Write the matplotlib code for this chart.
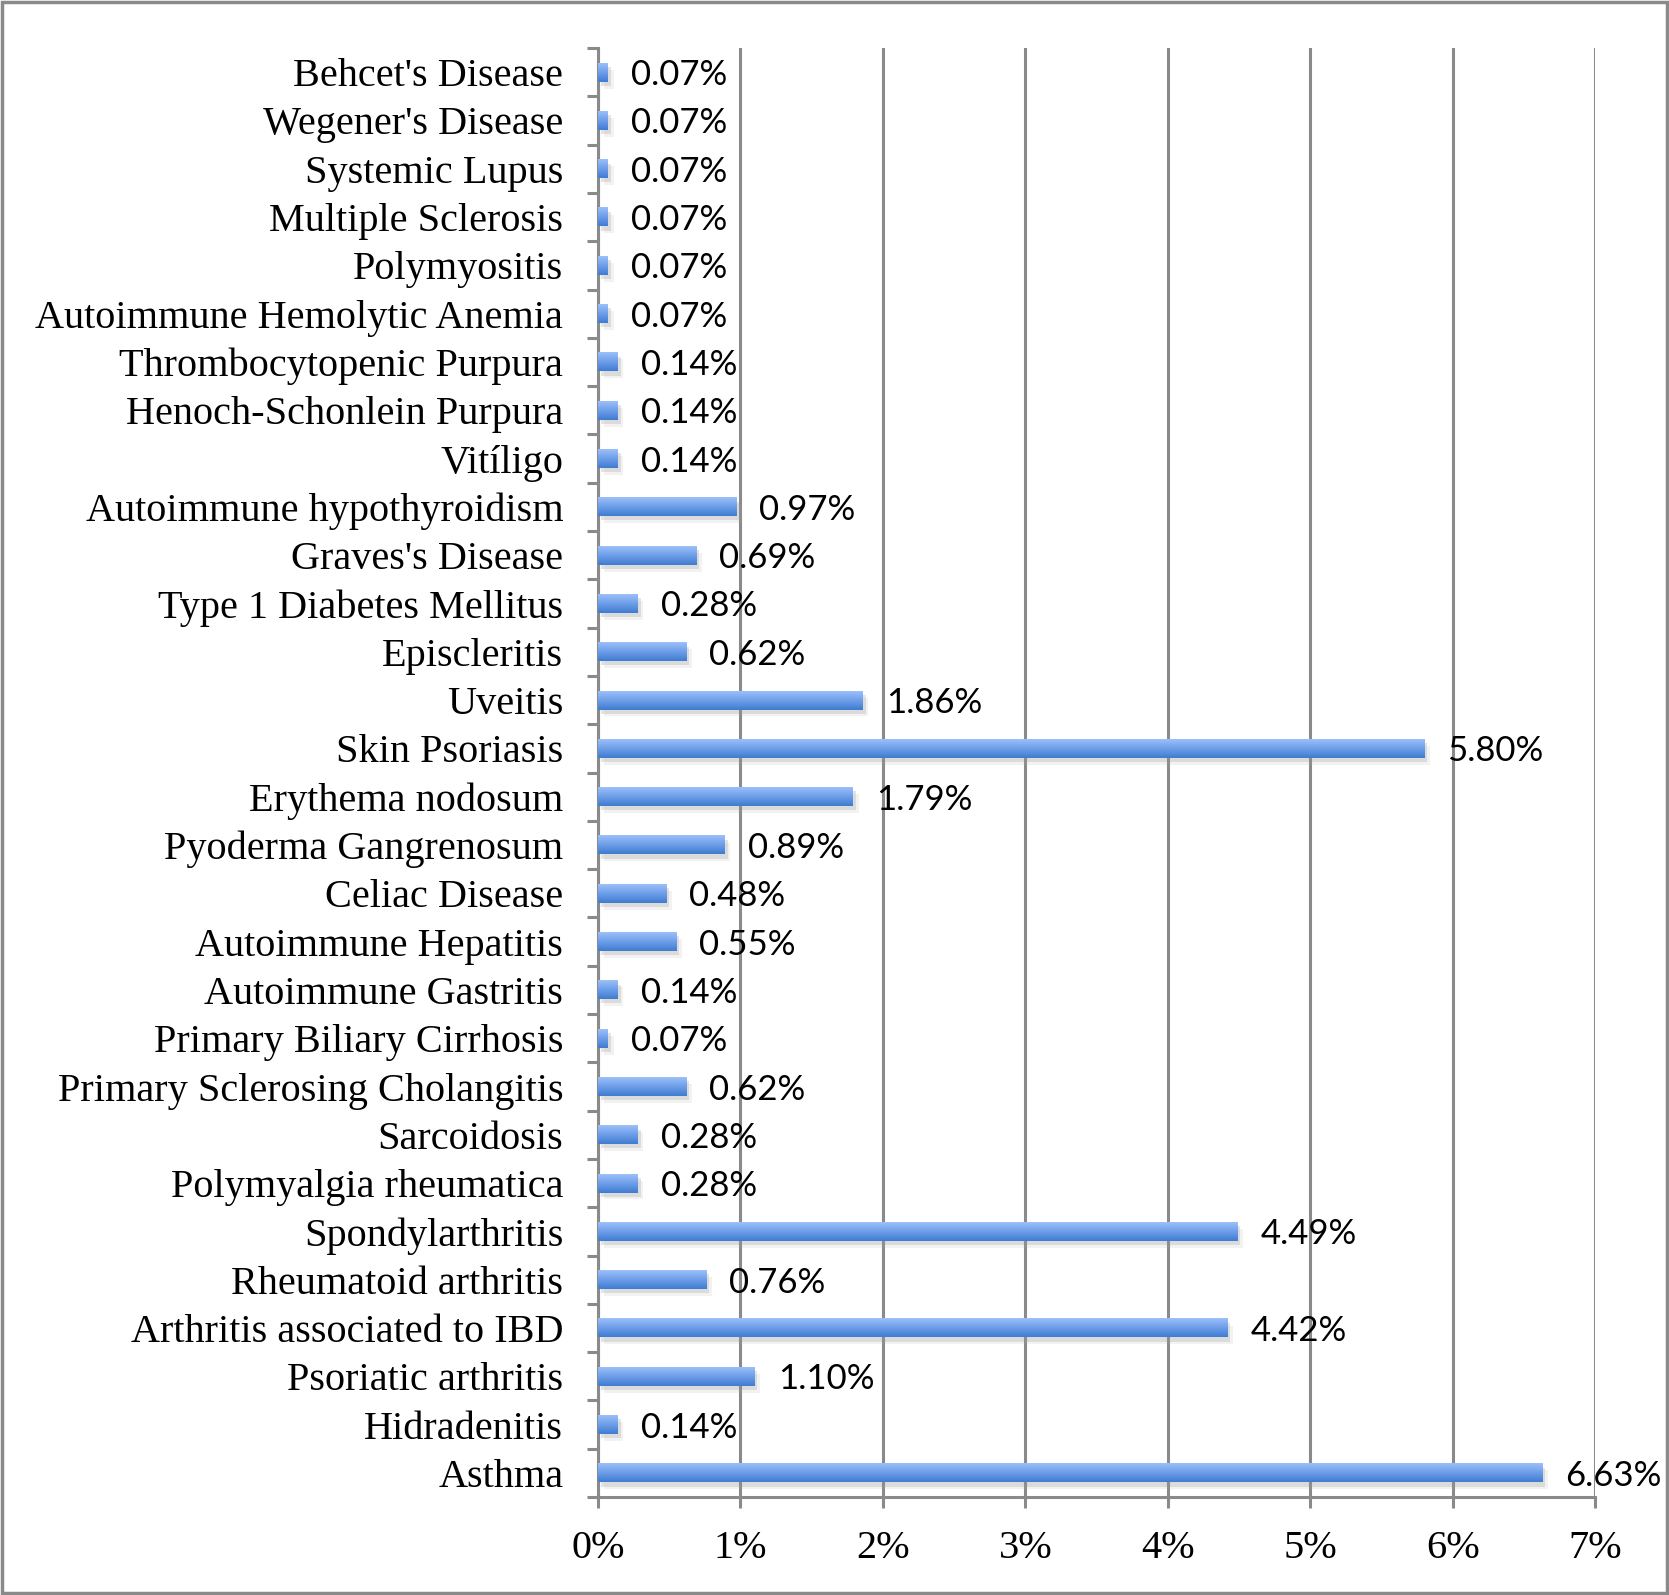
import matplotlib
matplotlib.use("Agg")
import matplotlib.pyplot as plt
import matplotlib.patheffects as pe
import numpy as np
from matplotlib.patches import Rectangle
from matplotlib.ticker import FixedLocator, FuncFormatter

# --------------------------------------------------
# DATA (bottom to top, as drawn)
# --------------------------------------------------
diseases = [
    "Asthma", "Hidradenitis", "Psoriatic arthritis", "Arthritis associated to IBD",
    "Rheumatoid arthritis", "Spondylarthritis", "Polymyalgia rheumatica", "Sarcoidosis",
    "Primary Sclerosing Cholangitis", "Primary Biliary Cirrhosis", "Autoimmune Gastritis",
    "Autoimmune Hepatitis", "Celiac Disease", "Pyoderma Gangrenosum", "Erythema nodosum",
    "Skin Psoriasis", "Uveitis", "Episcleritis", "Type 1 Diabetes Mellitus",
    "Graves's Disease", "Autoimmune hypothyroidism", "Vitíligo", "Henoch-Schonlein Purpura",
    "Thrombocytopenic Purpura", "Autoimmune Hemolytic Anemia", "Polymyositis",
    "Multiple Sclerosis", "Systemic Lupus", "Wegener's Disease", "Behcet's Disease",
]
pct = [
    6.63, 0.14, 1.10, 4.42, 0.76, 4.49, 0.28, 0.28, 0.62, 0.07, 0.14, 0.55, 0.48, 0.89,
    1.79, 5.80, 1.86, 0.62, 0.28, 0.69, 0.97, 0.14, 0.14, 0.14, 0.07, 0.07, 0.07, 0.07,
    0.07, 0.07,
]
x_ticks = [0, 1, 2, 3, 4, 5, 6, 7]

# --------------------------------------------------
# STYLE
# --------------------------------------------------
GRID = "#8a8a8a"
SERIF = "Liberation Serif"
SANS = "Lato"
BAR_H = 0.39

fig = plt.figure(figsize=(16.69, 15.95), dpi=100)
ax = fig.add_axes([0.3583, 0.0614, 0.9557 - 0.3583, 0.9699 - 0.0614])

y = np.arange(len(diseases))
vals = np.array(pct) / 100.0

bars = ax.barh(
    y, vals, height=BAR_H, color="#5b8fe0", zorder=3,
    path_effects=[pe.SimplePatchShadow(offset=(2, -3), shadow_rgbFace="#888888", alpha=0.22),
                  pe.SimplePatchShadow(offset=(4, -5), shadow_rgbFace="#aaaaaa", alpha=0.15),
                  pe.Normal()],
)

# vertical gradient inside each bar (light on top, darker below)
grad = np.linspace(0, 1, 64).reshape(-1, 1)
cmap = matplotlib.colors.LinearSegmentedColormap.from_list("bar", ["#9cc0fa", "#6d9ee9", "#3f7ccf"])
for b in bars:
    x0, y0 = b.get_x(), b.get_y()
    w, h = b.get_width(), b.get_height()
    ax.imshow(grad, extent=[x0, x0 + w, y0, y0 + h], aspect="auto", cmap=cmap,
              zorder=4, interpolation="bicubic")

# data labels
for yi, v, p in zip(y, vals, pct):
    ax.annotate(f"{p:.2f}%", (v, yi), xytext=(23, -3), textcoords="offset pixels",
                va="center", ha="left", fontsize=25, family=SANS, zorder=5)

ax.set_xlim(0, 0.07)
ax.set_ylim(-0.5, len(diseases) - 0.5)

ax.xaxis.set_major_locator(FixedLocator([t / 100 for t in x_ticks]))
ax.xaxis.set_major_formatter(FuncFormatter(lambda v, _: f"{v * 100:.0f}%"))
ax.set_yticks(y)
ax.set_yticklabels(diseases)
ax.yaxis.set_minor_locator(FixedLocator(np.arange(-0.5, len(diseases), 1.0)))

ax.tick_params(axis="y", which="major", length=0, pad=25, labelsize=29)
ax.tick_params(axis="y", which="minor", length=8, width=2.2, color=GRID)
ax.tick_params(axis="x", which="major", length=8, width=2.2, color=GRID, pad=16, labelsize=29)
for lab in ax.get_xticklabels() + ax.get_yticklabels():
    lab.set_family(SERIF)

ax.grid(axis="x", color=GRID, linewidth=2.2, zorder=0)
ax.set_axisbelow(True)
for s in ["top", "right"]:
    ax.spines[s].set_visible(False)
for s in ["left", "bottom"]:
    ax.spines[s].set_color(GRID)
    ax.spines[s].set_linewidth(2.2)

# outer frame round the whole figure
fig.patches.append(Rectangle((0.001, 0.001), 0.998, 0.998, transform=fig.transFigure,
                             fill=False, edgecolor=GRID, linewidth=2.5))

fig.savefig("out.png", dpi=100)
